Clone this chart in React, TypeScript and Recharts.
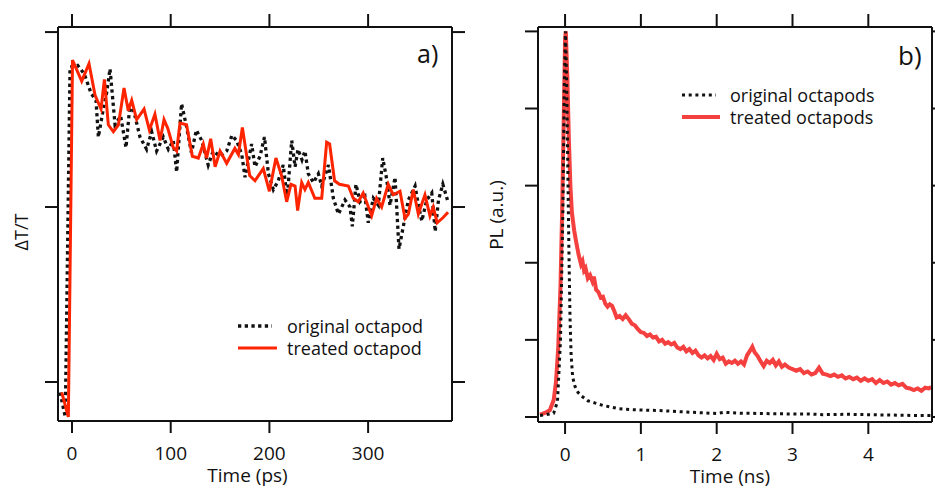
import { Label, Legend, Line, LineChart, XAxis, YAxis } from 'recharts'

// ─── Panel a) : transient transmission ───────────────────────
const A_X_TICKS = [0, 100, 200, 300]
const A_Y_TICKS = [0, 1, 2]

const A_ORIG_T = [-12, -9.5, -6.8, -2, 5.7, 12.5, 19.3, 24.3, 26.7, 31.7, 35, 38.5, 43.6, 49.3, 54.7, 58.8, 63.8, 68.9, 75.6, 80.7, 85.7, 92.5, 97.6, 102.6, 106, 111, 116, 121, 126, 131.4, 138, 143, 150, 156.7, 162, 166.8, 172, 175.3, 182, 185.4, 190.5, 195, 199, 204, 209, 214, 218, 222.6, 226, 229, 233, 236, 239.4, 244.6, 249.6, 253, 259.8, 264.8, 269.9, 276.6, 281.7, 284, 287.7, 291.8, 296.8, 300.2, 305.3, 310.4, 314.8, 318.8, 322.2, 327.3, 331.3, 335.7, 340.8, 347.6, 351, 354.4, 359.4, 364.5, 368, 371.3, 375.7, 380.4]
const A_ORIG_V = [-0.06, -0.13, -0.2, 1.8, 1.81, 1.76, 1.65, 1.61, 1.4, 1.56, 1.65, 1.79, 1.47, 1.52, 1.34, 1.59, 1.52, 1.4, 1.33, 1.43, 1.32, 1.4, 1.33, 1.38, 1.2, 1.59, 1.46, 1.31, 1.44, 1.38, 1.24, 1.32, 1.29, 1.32, 1.41, 1.38, 1.3, 1.17, 1.36, 1.23, 1.29, 1.4, 1.19, 1.1, 1.15, 1.24, 1.05, 1.38, 1.23, 1.33, 1.27, 1.32, 1.19, 1.14, 1.19, 1.12, 1.24, 1.05, 0.96, 1.04, 1.0, 0.89, 1.13, 1.03, 1.06, 0.91, 1.05, 1.01, 1.28, 1.16, 1.01, 1.17, 0.76, 0.89, 1.04, 1.12, 1.01, 0.92, 1.04, 1.08, 0.86, 1.04, 1.13, 1.04]

const A_TREAT_T = [-10.4, -3.7, 0.5, 9.8, 17.2, 23.3, 29.4, 32.8, 36.8, 41.9, 47, 52.7, 57, 60.5, 65.5, 73, 78.4, 84, 89.2, 93.2, 97, 102.6, 106, 109.4, 116, 121.9, 128, 133, 136.4, 140.5, 145, 150, 156.7, 165, 168.6, 172.6, 180, 185.4, 193.8, 200, 206.6, 212.3, 217.5, 221.8, 226, 228.6, 232.7, 236, 239.4, 246, 253, 258, 261, 266, 271, 280, 285, 290, 295, 303.6, 308.6, 313.7, 320.4, 325.5, 332.3, 337.4, 340.8, 345.8, 350.9, 357.6, 362.7, 366, 370, 376, 381]
const A_TREAT_V = [-0.06, -0.2, 1.84, 1.72, 1.82, 1.64, 1.56, 1.73, 1.47, 1.43, 1.47, 1.68, 1.55, 1.61, 1.5, 1.56, 1.44, 1.53, 1.38, 1.5, 1.45, 1.34, 1.32, 1.48, 1.47, 1.29, 1.28, 1.36, 1.28, 1.39, 1.23, 1.32, 1.25, 1.335, 1.3, 1.455, 1.18, 1.15, 1.22, 1.09, 1.28, 1.18, 1.03, 1.13, 1.12, 0.98, 1.14, 1.1, 1.14, 1.05, 1.05, 1.37, 1.36, 1.15, 1.13, 1.12, 1.05, 1.03, 1.08, 0.95, 1.05, 1.0, 1.13, 1.07, 1.09, 0.935, 0.96, 1.1, 0.96, 1.07, 0.95, 1.0, 0.91, 0.94, 0.97]

// ─── Panel b) : photoluminescence decay ──────────────────────
const B_X_TICKS = [0, 1, 2, 3, 4]
const B_Y_TICKS = [0, 1, 2, 3, 4, 5]

const B_ORIG_T = [-0.33, -0.25, -0.15, -0.1, -0.06, -0.03, -0.01, 0.005, 0.02, 0.035, 0.05, 0.065, 0.08, 0.1, 0.13, 0.17, 0.22, 0.3, 0.4, 0.5, 0.6, 0.7, 0.8, 0.9, 1.0, 1.2, 1.4, 1.6, 1.8, 2.0, 2.1, 2.3, 2.6, 2.9, 3.2, 3.4, 3.7, 4.0, 4.3, 4.6, 4.83]
const B_ORIG_V = [0.02, 0.03, 0.05, 0.2, 1.0, 2.6, 4.3, 5.0, 4.4, 3.3, 2.2, 1.3, 0.8, 0.52, 0.4, 0.32, 0.27, 0.21, 0.18, 0.15, 0.13, 0.11, 0.1, 0.095, 0.09, 0.085, 0.075, 0.065, 0.055, 0.045, 0.06, 0.05, 0.045, 0.04, 0.04, 0.03, 0.035, 0.03, 0.025, 0.02, 0.02]

const B_TREAT_T = [-0.33, -0.3, -0.25, -0.2, -0.15, -0.12, -0.09, -0.06, -0.04, -0.02, 0, 0.01, 0.03, 0.05, 0.07, 0.09, 0.12, 0.15, 0.18, 0.21, 0.23, 0.25, 0.27, 0.3, 0.33, 0.36, 0.38, 0.41, 0.44, 0.47, 0.5, 0.53, 0.56, 0.59, 0.62, 0.65, 0.68, 0.72, 0.76, 0.8, 0.84, 0.88, 0.92, 0.96, 1.0, 1.04, 1.08, 1.12, 1.16, 1.2, 1.24, 1.28, 1.32, 1.36, 1.4, 1.44, 1.48, 1.52, 1.56, 1.6, 1.64, 1.68, 1.72, 1.76, 1.8, 1.84, 1.88, 1.92, 1.96, 2.0, 2.04, 2.08, 2.12, 2.16, 2.2, 2.24, 2.28, 2.32, 2.36, 2.4, 2.44, 2.47, 2.5, 2.54, 2.58, 2.62, 2.66, 2.7, 2.74, 2.78, 2.82, 2.86, 2.9, 2.95, 3.0, 3.05, 3.1, 3.15, 3.2, 3.25, 3.3, 3.35, 3.4, 3.45, 3.5, 3.55, 3.6, 3.65, 3.7, 3.75, 3.8, 3.85, 3.9, 3.95, 4.0, 4.05, 4.1, 4.15, 4.2, 4.25, 4.3, 4.35, 4.4, 4.45, 4.5, 4.55, 4.6, 4.65, 4.7, 4.75, 4.8, 4.83]
const B_TREAT_V = [0.03, 0.04, 0.06, 0.09, 0.22, 0.45, 0.9, 1.7, 2.6, 3.7, 4.9, 5.0, 4.4, 3.6, 3.0, 2.65, 2.42, 2.25, 2.1, 1.98, 2.02, 1.9, 1.93, 1.8, 1.84, 1.76, 1.82, 1.65, 1.62, 1.55, 1.56, 1.47, 1.43, 1.46, 1.44, 1.37, 1.29, 1.31, 1.27, 1.32, 1.27, 1.21, 1.19, 1.14, 1.1, 1.09, 1.05, 1.07, 1.03, 1.04, 0.98, 1.0, 0.95, 0.97, 0.94, 0.96, 0.9, 0.88, 0.91, 0.85, 0.88, 0.83, 0.86, 0.8, 0.77, 0.8, 0.76, 0.79, 0.74, 0.82, 0.75, 0.77, 0.69, 0.72, 0.7, 0.73, 0.69, 0.72, 0.68, 0.8, 0.86, 0.91, 0.84, 0.79, 0.72, 0.66, 0.73, 0.7, 0.74, 0.67, 0.72, 0.65, 0.68, 0.64, 0.62, 0.6, 0.62, 0.57, 0.59, 0.55, 0.57, 0.64, 0.56, 0.55, 0.53, 0.55, 0.52, 0.54, 0.5, 0.52, 0.49, 0.51, 0.47, 0.5, 0.47, 0.49, 0.44, 0.48, 0.44, 0.46, 0.42, 0.44, 0.41, 0.43, 0.38, 0.37, 0.35, 0.37, 0.34, 0.38, 0.37, 0.39]

const rows = (t: number[], v: number[]) => t.map((x, i) => ({ t: x, v: v[i] }))

const FONT = '"Open Sans", sans-serif'
const INK = '#111'
const RED_A = '#ff2400'
const RED_B = '#f4403f'

const tickText = { fill: INK, fontSize: 19, fontFamily: FONT }
// shared axis look: 2px black frame, outward ticks
const frame = { stroke: INK, strokeWidth: 2, axisLine: true, tickLine: true, interval: 0 as const, allowDataOverflow: true, type: 'number' as const }

// label drawn at a fixed spot inside the chart's svg
const textAt = (value: string, x: number, y: number, size: number, opts: { anchor?: string; rotate?: boolean } = {}) => () => (
  <text
    x={x}
    y={y}
    fill={INK}
    fontSize={size}
    fontFamily={FONT}
    textAnchor={opts.anchor ?? 'middle'}
    transform={opts.rotate ? `rotate(-90 ${x} ${y})` : undefined}
  >
    {value}
  </text>
)

// no tick text on the mirrored / unlabeled axes
const noText = () => <g />

type LegendItem = { name: string; color: string; width: number; dash?: string; len: number }

const legendContent = (items: LegendItem[], gap: number) => () => (
  <div style={{ fontFamily: FONT, fontSize: 18, color: INK, lineHeight: '22px', whiteSpace: 'nowrap' }}>
    {items.map(it => (
      <div key={it.name} style={{ display: 'flex', alignItems: 'center', height: 22 }}>
        <svg width={gap} height={22} style={{ display: 'block' }}>
          <line x1={0} x2={it.len} y1={11} y2={11} stroke={it.color} strokeWidth={it.width} strokeDasharray={it.dash} />
        </svg>
        <span>{it.name}</span>
      </div>
    ))}
  </div>
)

const A_LEGEND: LegendItem[] = [
  { name: 'original octapod', color: INK, width: 3.3, dash: '3.3 3.4', len: 34 },
  { name: 'treated octapod', color: RED_A, width: 3, len: 39 },
]
const B_LEGEND: LegendItem[] = [
  { name: 'original octapods', color: INK, width: 3, dash: '3 3.7', len: 34 },
  { name: 'treated octapods', color: RED_B, width: 4, len: 38 },
]

function PanelA() {
  const xDomain = [-14.2, 385]
  const yDomain = [-0.223, 2.029]
  return (
    <LineChart width={470} height={488} margin={{ top: 14, right: 3, bottom: 0, left: 0 }}>
      <XAxis {...frame} xAxisId="b" dataKey="t" domain={xDomain} ticks={A_X_TICKS}
        height={67} tickSize={12} tickMargin={14} tick={tickText}>
        <Label content={textAt('Time (ps)', 247.5, 481.5, 19)} />
      </XAxis>
      <XAxis {...frame} xAxisId="t" orientation="top" dataKey="t" domain={xDomain} ticks={A_X_TICKS}
        height={13} tickSize={13} tick={noText}>
        <Label content={textAt('a)', 417, 63, 25, { anchor: 'start' })} />
      </XAxis>
      <YAxis {...frame} yAxisId="l" domain={yDomain} ticks={A_Y_TICKS}
        width={58} tickSize={13} tick={noText}>
        <Label content={textAt('ΔT/T', 28, 232, 18, { rotate: true })} />
      </YAxis>
      <YAxis {...frame} yAxisId="r" orientation="right" domain={yDomain} ticks={A_Y_TICKS}
        width={15} tickSize={13} tick={noText} />
      <Legend layout="vertical" align="center" verticalAlign="middle"
        wrapperStyle={{ left: 238, top: 315, width: 'auto' }} content={legendContent(A_LEGEND, 49)} />
      <Line xAxisId="b" yAxisId="l" data={rows(A_ORIG_T, A_ORIG_V)} dataKey="v" name="original octapod"
        type="linear" stroke={INK} strokeWidth={3.3} strokeDasharray="3.3 3.4" dot={false} isAnimationActive={false} />
      <Line xAxisId="b" yAxisId="l" data={rows(A_TREAT_T, A_TREAT_V)} dataKey="v" name="treated octapod"
        type="linear" stroke={RED_A} strokeWidth={3} dot={false} isAnimationActive={false} />
    </LineChart>
  )
}

function PanelB() {
  const xDomain = [-0.357, 4.84]
  const yDomain = [-0.065, 5.057]
  return (
    <LineChart width={465} height={488} margin={{ top: 14, right: 0, bottom: 0, left: 0 }}>
      <XAxis {...frame} xAxisId="b" dataKey="t" domain={xDomain} ticks={B_X_TICKS}
        height={66} tickSize={12} tickMargin={14} tick={tickText}>
        <Label content={textAt('Time (ns)', 260, 483, 19)} />
      </XAxis>
      <XAxis {...frame} xAxisId="t" orientation="top" dataKey="t" domain={xDomain} ticks={B_X_TICKS}
        height={13} tickSize={13} tick={noText}>
        <Label content={textAt('b)', 428, 65, 26, { anchor: 'start' })} />
      </XAxis>
      <YAxis {...frame} yAxisId="l" domain={yDomain} ticks={B_Y_TICKS}
        width={68} tickSize={13} tick={noText}>
        <Label content={textAt('PL (a.u.)', 33, 215, 19, { rotate: true })} />
      </YAxis>
      <YAxis {...frame} yAxisId="r" orientation="right" domain={yDomain} ticks={B_Y_TICKS}
        width={3} tickSize={13} tick={noText} />
      <Legend layout="vertical" align="center" verticalAlign="middle"
        wrapperStyle={{ left: 212, top: 84, width: 'auto' }} content={legendContent(B_LEGEND, 48)} />
      <Line xAxisId="b" yAxisId="l" data={rows(B_TREAT_T, B_TREAT_V)} dataKey="v" name="treated octapods"
        type="linear" stroke={RED_B} strokeWidth={4} dot={false} isAnimationActive={false} />
      <Line xAxisId="b" yAxisId="l" data={rows(B_ORIG_T, B_ORIG_V)} dataKey="v" name="original octapods"
        type="linear" stroke={INK} strokeWidth={3} strokeDasharray="3 3.7" dot={false} isAnimationActive={false} />
    </LineChart>
  )
}

export default function App() {
  return (
    <div style={{ position: 'absolute', left: 0, top: 0, width: 935, height: 488, background: '#fff', overflow: 'hidden' }}>
      <div style={{ position: 'absolute', left: 0, top: 0 }}>
        <PanelA />
      </div>
      <div style={{ position: 'absolute', left: 470, top: 0 }}>
        <PanelB />
      </div>
    </div>
  )
}
